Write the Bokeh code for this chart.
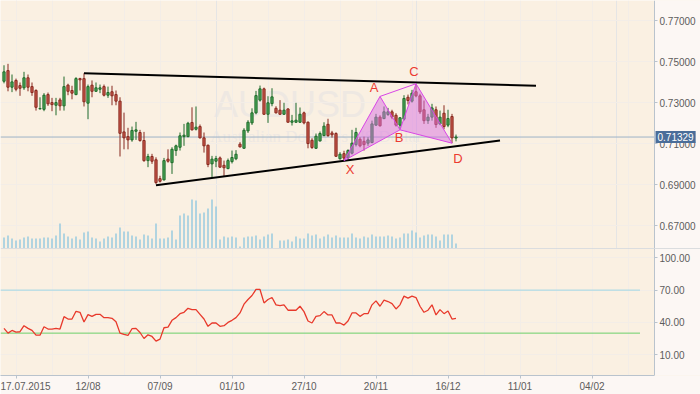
from bokeh.plotting import figure
from bokeh.layouts import column
from bokeh.models import (Range1d, FixedTicker, Span, Label, ColumnDataSource, Grid,
                          BoxAnnotation)
from bokeh.core.properties import value
from bokeh.embed import file_html
from bokeh.resources import INLINE

# ---------------- data (bar index = trading day, 0 = 17.07.2015) ----------------
bar_index = list(range(-3, 111))
opens = [.7405, .7457, .7376, .7409, .7384, .7373, .7422, .7379, .7360, .7270,
         .7268, .7340, .7301, .7288, .7314, .7285, .7386, .7360, .7340, .7418,
         .7418, .7298, .7386, .7356, .7366, .7379, .7337, .7354, .7340, .7308,
         .7158, .7135, .7119, .7161, .7155, .7116, .7018, .7038, .7022, .6930,
         .6924, .7025, .7008, .7067, .7083, .7135, .7135, .7204, .7171, .7184,
         .7129, .7093, .7002, .7015, .7031, .6995, .6979, .7013, .7027, .7098,
         .7078, .7163, .7202, .7251, .7313, .7368, .7244, .7296, .7273, .7264,
         .7244, .7270, .7205, .7205, .7205, .7251, .7205, .7117, .7078, .7114,
         .7140, .7195, .7153, .7150, .7027, .7052, .7031, .7054, .7096, .7122,
         .7112, .7103, .7106, .7191, .7230, .7223, .7243, .7256, .7239, .7191,
         .7220, .7327, .7308, .7354, .7334, .7266, .7213, .7230, .7266, .7197,
         .7249, .7191, .7233, .7128]
highs = [.7483, .7490, .7438, .7418, .7399, .7451, .7438, .7399, .7366, .7327,
         .7347, .7350, .7324, .7324, .7324, .7428, .7393, .7383, .7425, .7422,
         .7444, .7389, .7409, .7399, .7389, .7389, .7379, .7383, .7360, .7327,
         .7252, .7178, .7184, .7207, .7168, .7158, .7051, .7051, .7034, .6944,
         .7031, .7073, .7083, .7096, .7155, .7197, .7207, .7278, .7282, .7194,
         .7155, .7096, .7041, .7041, .7038, .7018, .7028, .7067, .7069, .7108,
         .7176, .7215, .7273, .7358, .7384, .7374, .7332, .7371, .7283, .7313,
         .7300, .7273, .7241, .7300, .7277, .7257, .7209, .7127, .7150, .7160,
         .7205, .7222, .7163, .7156, .7059, .7066, .7073, .7168, .7178, .7132,
         .7135, .7132, .7213, .7246, .7239, .7282, .7275, .7266, .7249, .7230,
         .7337, .7340, .7363, .7393, .7344, .7311, .7246, .7295, .7282, .7262,
         .7288, .7266, .7246, .7145]
lows = [.7395, .7356, .7352, .7356, .7334, .7363, .7356, .7334, .7262, .7268,
        .7259, .7285, .7259, .7239, .7262, .7262, .7337, .7317, .7337, .7360,
        .7282, .7220, .7327, .7354, .7347, .7331, .7324, .7288, .7288, .7038,
        .7073, .7073, .7110, .7119, .7110, .7012, .6986, .7002, .6903, .6911,
        .6921, .7008, .6953, .7041, .7067, .7090, .7132, .7165, .7165, .7126,
        .7057, .6986, .6937, .6986, .6983, .6940, .6976, .7004, .7020, .7082,
        .7078, .7153, .7192, .7244, .7306, .7241, .7202, .7283, .7248, .7241,
        .7241, .7205, .7189, .7202, .7202, .7195, .7078, .7075, .7075, .7111,
        .7137, .7134, .7130, .7036, .7023, .7020, .7025, .7048, .7087, .7083,
        .7067, .7090, .7103, .7188, .7184, .7220, .7236, .7220, .7184, .7171,
        .7213, .7292, .7301, .7327, .7246, .7197, .7197, .7213, .7178, .7191,
        .7171, .7181, .7103, .7112]
closes = [.7451, .7376, .7402, .7366, .7371, .7422, .7376, .7350, .7278, .7272,
          .7337, .7295, .7291, .7301, .7285, .7379, .7356, .7347, .7418, .7412,
          .7305, .7379, .7356, .7373, .7373, .7337, .7350, .7334, .7308, .7151,
          .7129, .7119, .7165, .7168, .7116, .7018, .7038, .7015, .6911, .6917,
          .7018, .7015, .7073, .7090, .7139, .7142, .7200, .7168, .7181, .7129,
          .7090, .6999, .7025, .7028, .6986, .6983, .7018, .7033, .7049, .7085,
          .7166, .7205, .7251, .7335, .7368, .7244, .7300, .7329, .7251, .7244,
          .7264, .7205, .7212, .7215, .7244, .7202, .7101, .7082, .7137, .7150,
          .7186, .7140, .7144, .7039, .7049, .7030, .7067, .7103, .7155, .7090,
          .7096, .7119, .7197, .7230, .7188, .7256, .7256, .7230, .7191, .7227,
          .7321, .7311, .7347, .7334, .7256, .7213, .7230, .7275, .7194, .7230,
          .7184, .7223, .7129, .71329]
volumes = [3300, 3900, 3000, 2400, 2700, 3300, 3600, 3000, 3000, 3000,
           3300, 3300, 3000, 3900, 7500, 4500, 3600, 3000, 3600, 2700,
           4800, 5100, 3300, 3000, 2100, 3000, 3600, 3300, 4500, 6300,
           5100, 5100, 3900, 3600, 2700, 4200, 3900, 3000, 7500, 3000,
           3000, 3300, 5400, 2700, 9900, 10500, 9900, 14700, 14400, 10500,
           10800, 12000, 14700, 12600, 2700, 3600, 3300, 3600, 3300, 600,
           3300, 3600, 3600, 3900, 2700, 3600, 4200, 4500, 0, 2400,
           2400, 2700, 2100, 3600, 3000, 3000, 4500, 3900, 4200, 3000,
           3600, 4200, 3300, 3900, 3300, 3300, 3300, 4500, 3300, 3000,
           3600, 3300, 4200, 3600, 3600, 3600, 3900, 3600, 3000, 3300,
           4500, 4500, 5400, 4800, 3300, 3900, 4200, 4200, 3600, 2400,
           4200, 4200, 4200, 1500]
rsi_values = [34.4, 30.0, 32.5, 31.0, 31.3, 36.9, 34.4, 32.5, 28.1, 28.1,
              35.9, 33.8, 33.8, 34.4, 33.8, 45.3, 43.1, 43.1, 50.3, 49.4,
              40.3, 47.2, 45.6, 47.5, 47.5, 44.4, 44.4, 43.8, 40.6, 30.0,
              28.8, 27.8, 34.1, 34.4, 30.6, 25.0, 28.4, 26.9, 22.5, 24.4,
              35.0, 35.6, 41.9, 44.4, 48.1, 49.4, 53.1, 51.9, 51.9, 47.5,
              43.1, 36.3, 39.4, 39.4, 36.3, 36.9, 40.0, 41.9, 44.4, 48.8,
              56.9, 61.3, 65.0, 70.6, 70.6, 58.1, 61.3, 63.1, 56.3, 55.6,
              56.3, 51.3, 51.3, 51.3, 55.0, 50.0, 41.3, 39.4, 45.6, 46.3,
              50.0, 46.9, 46.9, 39.4, 39.4, 37.5, 41.3, 48.8, 48.8, 45.6,
              48.1, 48.1, 56.3, 60.0, 55.0, 60.6, 59.4, 57.5, 52.5, 56.3,
              64.4, 62.5, 64.4, 63.1, 55.0, 49.4, 51.3, 56.3, 46.9, 51.9,
              48.1, 50.6, 43.1, 43.8]
last_price = 0.71329

price_ticks = [0.67, 0.69, 0.71, 0.73, 0.75, 0.77]
rsi_ticks = [10, 40, 70, 100]
rsi_levels = [70, 30]
date_tick_idx = [0, 18, 36, 54, 72, 90, 108, 126, 144]
date_tick_labels = ["17.07.2015", "12/08", "07/09", "01/10", "27/10",
                    "20/11", "16/12", "11/01", "04/02"]
grid_idx = [-9, 0, 9, 18, 27, 36, 45, 54, 63, 72, 81, 90, 99, 108, 117, 126, 135, 144, 153]

upper_trend_idx = [17, 130]
upper_trend_price = [0.7444, 0.7383]
lower_trend_idx = [35, 121]
lower_trend_price = [0.6898, 0.7116]

pattern_names = ["X", "A", "B", "C", "D"]
pattern_idx = [82, 91, 96, 100, 109]
pattern_price = [0.7018, 0.7331, 0.7168, 0.7393, 0.7103]

watermark = "AUDUSD"
watermark_sub = "Australian Dollar vs US Dollar"

# ---------------- style ----------------
BG = "#faf0e2"
OUTER = "#fcf7f4"
GRID = "#f3ede7"
AXIS = "#b9c3cd"
TXT = "#5c5c5c"
FONT = "Liberation Sans"
W = 700
X0, X1 = -3.875, 171.125      # full canvas width in bar units (4 px per bar)
AX = 159.625                  # where the price / RSI axes sit

top = [max(a, b) for a, b in zip(opens, closes)]
bot = [min(a, b) for a, b in zip(opens, closes)]
up = [c >= o for o, c in zip(opens, closes)]
src = ColumnDataSource(dict(
    x=bar_index, h=highs, l=lows, top=top, bot=bot, v=volumes, rsi=rsi_values,
    fill=["#4aa858" if u else "#c9584a" for u in up],
    edge=["#1f6a2a" if u else "#87291f" for u in up],
))


def style_axis(ax):
    ax.axis_line_color = AXIS
    ax.major_tick_line_color = AXIS
    ax.major_tick_out = 3
    ax.major_tick_in = 0
    ax.minor_tick_line_color = None
    ax.major_label_text_font = FONT
    ax.major_label_text_font_size = "10px"
    ax.major_label_text_color = TXT
    ax.major_label_standoff = 2


# ---------------- main price panel ----------------
p = figure(width=W, height=248, x_range=Range1d(X0, X1),
           y_range=Range1d(0.65892, 0.7799),
           output_backend="svg", toolbar_location=None,
           x_axis_location=None, y_axis_location="right",
           min_border_left=0, min_border_top=0, min_border_bottom=0, min_border_right=0,
           background_fill_color=BG, border_fill_color=OUTER, outline_line_color=None)
p.extra_y_ranges = {"vol": Range1d(0, 74400)}

p.yaxis.ticker = FixedTicker(ticks=price_ticks)
p.yaxis.major_label_overrides = {t: f"{t:.5f}" for t in price_ticks}
p.yaxis.fixed_location = AX
p.ygrid.grid_line_color = GRID
p.add_layout(Grid(dimension=0, ticker=FixedTicker(ticks=grid_idx), grid_line_color=GRID))
for ax in p.yaxis:
    style_axis(ax)
p.add_layout(BoxAnnotation(left=AX, fill_color=OUTER, fill_alpha=1.0,
                           line_color=None, level="underlay"))

# watermark
p.text(x=[68.5], y=[0.7291], text=[watermark], text_font=value(FONT),
       text_font_size="36px", text_color="#eee8e2", text_align="center",
       text_baseline="middle", level="underlay")
p.text(x=[75], y=[0.7135], text=[watermark_sub], text_font=value("Liberation Serif"),
       text_font_size="17px", text_color="#eee8e2", text_align="center",
       text_baseline="middle", level="underlay")

# last price line
p.line([X0, AX], [last_price, last_price], line_color="#9db2c7", line_width=1)

# volume
p.vbar(x="x", top="v", bottom=0, width=0.33, source=src, y_range_name="vol",
       fill_color="#8cc6df", line_color=None)

# candles
p.segment(x0="x", y0="h", x1="x", y1="l", source=src, line_color="edge", line_width=1)
p.vbar(x="x", top="top", bottom="bot", width=0.55, source=src,
       fill_color="fill", line_color="edge", line_width=1)

# trend lines
p.line(upper_trend_idx, upper_trend_price, line_color="black", line_width=2)
p.line(lower_trend_idx, lower_trend_price, line_color="black", line_width=2)

# harmonic pattern
X, A, B, C, D = [(i, v) for i, v in zip(pattern_idx, pattern_price)]
p.patches(xs=[[X[0], A[0], B[0]], [B[0], C[0], D[0]]],
          ys=[[X[1], A[1], B[1]], [B[1], C[1], D[1]]],
          fill_color="#d870e0", fill_alpha=0.5, line_color="#d946e6", line_width=1)
p.multi_line(xs=[[A[0], C[0]]], ys=[[A[1], C[1]]], line_color="#d946e6", line_width=1)
p.text(x=pattern_idx, y=pattern_price, text=pattern_names,
       x_offset=[6, -6, -1, -2, 6], y_offset=[9, -9, 8, -12, 15],
       text_font=value(FONT), text_font_size="13px", text_color="#ec3a30",
       text_align="center", text_baseline="middle")

# last price tag on the axis
p.add_layout(Label(x=AX, y=last_price, x_offset=1,
                   text=f"{last_price:.5f}", text_align="left", text_baseline="middle",
                   text_color="white", text_font=FONT, text_font_size="10px",
                   background_fill_color="#4a6d99", padding=2))

# ---------------- RSI panel ----------------
r = figure(width=W, height=146, x_range=p.x_range, y_range=Range1d(-9.4, 108.7),
           output_backend="svg", toolbar_location=None, y_axis_location="right",
           min_border_left=0, min_border_top=0, min_border_right=0,
           background_fill_color=BG, border_fill_color=OUTER, outline_line_color=None)
r.yaxis.ticker = FixedTicker(ticks=rsi_ticks)
r.yaxis.major_label_overrides = {t: f"{t:.2f}" for t in rsi_ticks}
r.yaxis.fixed_location = AX
r.xaxis.ticker = FixedTicker(ticks=date_tick_idx)
r.xaxis.major_label_overrides = dict(zip(date_tick_idx, date_tick_labels))
r.xaxis.bounds = (X0, AX)
r.xgrid.ticker = FixedTicker(ticks=grid_idx)
r.xgrid.grid_line_color = GRID
r.ygrid.grid_line_color = GRID
for ax in list(r.xaxis) + list(r.yaxis):
    style_axis(ax)
r.add_layout(BoxAnnotation(left=AX, fill_color=OUTER, fill_alpha=1.0,
                           line_color=None, level="underlay"))

r.add_layout(Span(location=108.7, dimension="width", line_color=AXIS, line_width=1))
r.line([X0, 156], [rsi_levels[0]] * 2, line_color="#9fd6e4", line_width=1)
r.line([X0, 156], [rsi_levels[1]] * 2, line_color="#6ccf6a", line_width=1)
r.line(x="x", y="rsi", source=src, line_color="#e8392b", line_width=1.3)

layout = column(p, r, spacing=0)
open("out.html", "w").write(file_html(layout, INLINE))
